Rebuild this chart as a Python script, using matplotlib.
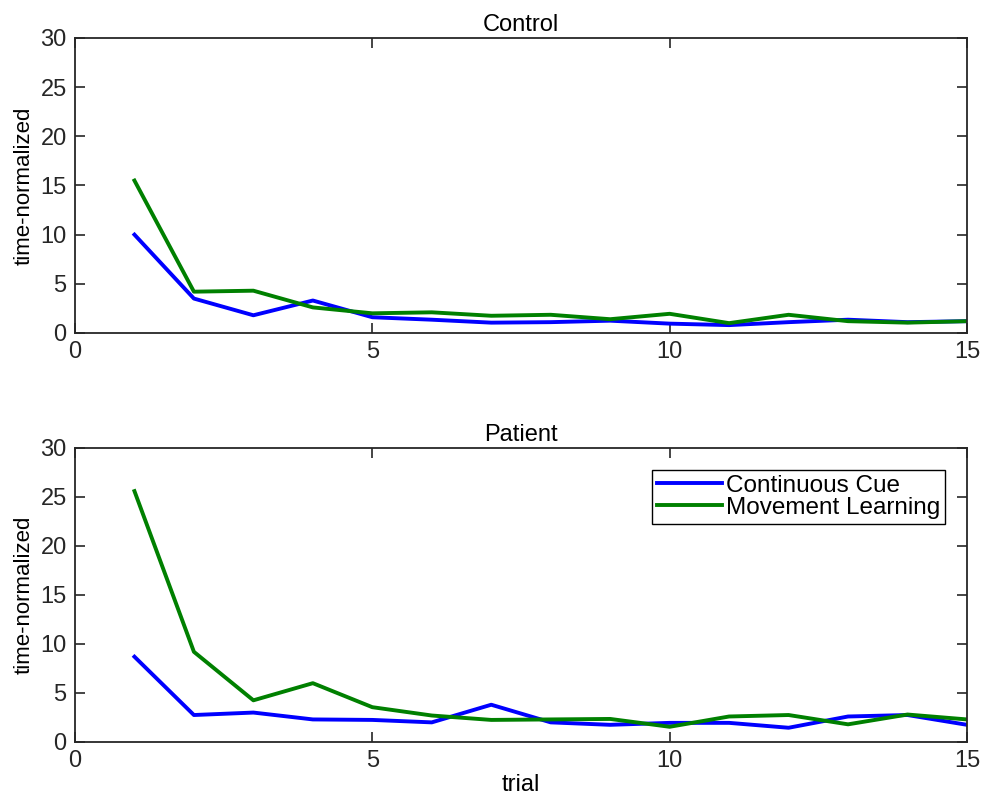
import matplotlib
matplotlib.use("Agg")
import matplotlib.pyplot as plt

plt.rcParams["font.family"] = ["Liberation Sans", "DejaVu Sans"]

trials = list(range(1, 16))

# Control group
control_cue = [10.0, 3.5, 1.8, 3.3, 1.6, 1.35, 1.05, 1.1, 1.25, 0.95, 0.8, 1.1, 1.35, 1.1, 1.2]
control_move = [15.5, 4.2, 4.3, 2.6, 2.0, 2.1, 1.75, 1.85, 1.4, 1.95, 1.0, 1.85, 1.2, 1.05, 1.2]

# Patient group
patient_cue = [8.7, 2.75, 3.0, 2.3, 2.25, 2.0, 3.8, 2.0, 1.75, 1.95, 1.95, 1.45, 2.6, 2.75, 1.75]
patient_move = [25.6, 9.2, 4.25, 6.0, 3.55, 2.7, 2.25, 2.3, 2.35, 1.55, 2.6, 2.75, 1.8, 2.8, 2.3]

titles = ["Control", "Patient"]
series = [(control_cue, control_move), (patient_cue, patient_move)]

fig = plt.figure(figsize=(9.84, 8.01), dpi=100)
axes = [fig.add_axes([0.0762, 0.5843, 0.9065, 0.3683]),
        fig.add_axes([0.0762, 0.0737, 0.9065, 0.3670])]

edge = "#262626"
for ax, title, (cue, move) in zip(axes, titles, series):
    ax.plot(trials, cue, color="#0000ff", lw=2.8, label="Continuous Cue")
    ax.plot(trials, move, color="#008000", lw=2.8, label="Movement Learning")
    ax.set_xlim(0, 15)
    ax.set_ylim(0, 30)
    ax.set_xticks([0, 5, 10, 15])
    ax.set_yticks([0, 5, 10, 15, 20, 25, 30])
    ax.set_title(title, fontsize=17, pad=5)
    ax.set_ylabel("time-normalized", fontsize=16, labelpad=4)
    ax.tick_params(direction="in", length=7, width=1.2, top=True, right=True,
                   labelsize=17, colors=edge, labelcolor=edge, pad=6)
    for s in ax.spines.values():
        s.set_color(edge)
        s.set_linewidth(1.3)

axes[1].set_xlabel("trial", fontsize=17, labelpad=1)
leg = axes[1].legend(loc="upper right", prop={"size": 17.5}, fancybox=False, framealpha=1,
                     edgecolor="black", borderpad=0.2, labelspacing=0.0,
                     handlelength=2.7, handletextpad=0.15, borderaxespad=0.9)
leg.get_frame().set_linewidth(1.0)

fig.savefig("out.png", dpi=100)
